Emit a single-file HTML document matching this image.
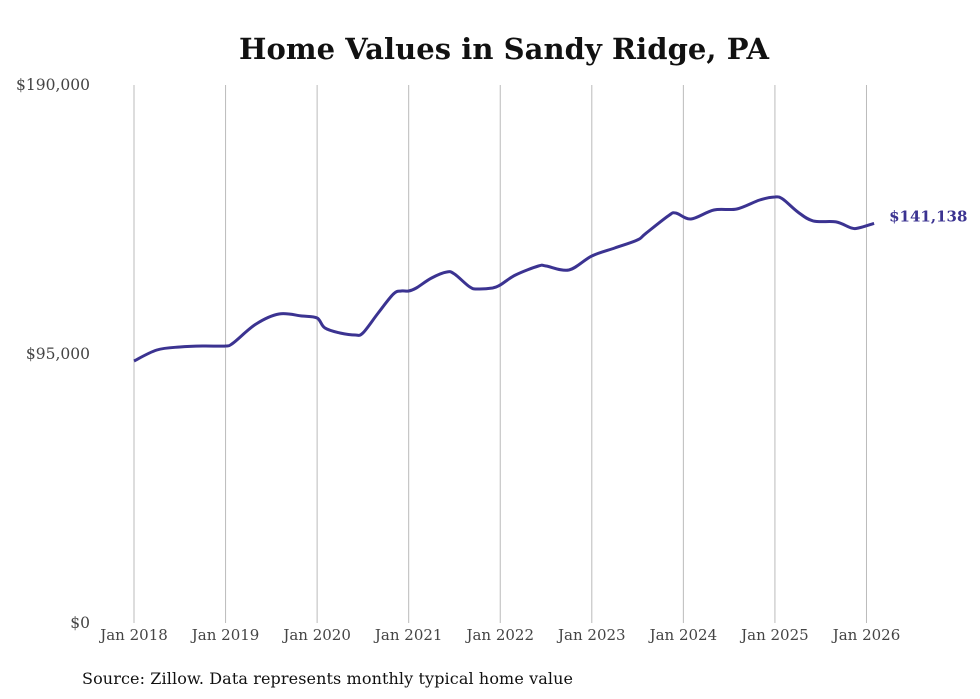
<!DOCTYPE html>
<html><head><meta charset="utf-8"><style>
body{margin:0;background:#fff;width:980px;height:699px;overflow:hidden}
svg{display:block;font-family:"DejaVu Serif","Liberation Serif",serif}
</style></head><body>
<svg width="980" height="699">
<text x="504" y="59" text-anchor="middle" font-size="29" font-weight="bold" fill="#111" textLength="530">Home Values in Sandy Ridge, PA</text>
<g id="grid"></g><g id="yaxis"></g><g id="xaxis"></g>
<path id="line" fill="none" stroke="#3b3391" stroke-width="3" stroke-linejoin="round"/>
<text id="lastlabel" font-size="15" font-weight="bold" fill="#3b3391"></text>
<text x="82" y="684" font-size="16" fill="#111" textLength="491">Source: Zillow. Data represents monthly typical home value</text>
</svg>
<script>
const months=[0,3,6,9,12,13,16,19,22,24,25,27,29,30,32,34,35,36,37,39,41,42,44,45,47,48,50,53,54,57,60,63,66,67,70,71,73,76,79,82,84,85,87,89,92,94,95,97];
const values=[92540,96420,97480,97840,97840,98900,105600,109140,108430,107730,104200,102430,101720,102430,109490,116200,117260,117260,118320,121850,123970,123260,118680,117970,118320,119380,122910,126090,126090,124680,129620,132450,135280,137400,143750,144810,142690,145870,146220,149400,150460,149760,145160,141990,141640,139520,139520,141138];
const yTicks=[0,95000,190000];
const yTickLabels=["$0","$95,000","$190,000"];
const xTicks=[0,12,24,36,48,60,72,84,96];
const xTickLabels=["Jan 2018","Jan 2019","Jan 2020","Jan 2021","Jan 2022","Jan 2023","Jan 2024","Jan 2025","Jan 2026"];
const NS="http://www.w3.org/2000/svg";
const X=m=>134+m*7.63;
const Y=v=>623-v/190000*538;
const grid=document.getElementById('grid'),xa=document.getElementById('xaxis'),ya=document.getElementById('yaxis');
xTicks.forEach((m,i)=>{
 const l=document.createElementNS(NS,'line');
 l.setAttribute('x1',X(m));l.setAttribute('x2',X(m));l.setAttribute('y1',85);l.setAttribute('y2',623);
 l.setAttribute('stroke','#bbb');l.setAttribute('stroke-width','1');
 
 
 grid.appendChild(l);
 const t=document.createElementNS(NS,'text');
 t.setAttribute('x',X(m));t.setAttribute('y',640);t.setAttribute('text-anchor','middle');
 t.setAttribute('font-size','15');t.setAttribute('fill','#444');t.textContent=xTickLabels[i];
 
 
 xa.appendChild(t);
});
yTicks.forEach((v,i)=>{
 const t=document.createElementNS(NS,'text');
 t.setAttribute('x',90);t.setAttribute('y',Y(v)+5);t.setAttribute('text-anchor','end');
 t.setAttribute('font-size','15.5');t.setAttribute('fill','#444');t.textContent=yTickLabels[i];
 
 
 ya.appendChild(t);
});
const pts=months.map((m,i)=>[X(m),Y(values[i])]);
let d='M'+pts[0][0].toFixed(1)+','+pts[0][1].toFixed(1);
for(let i=1;i<pts.length;i++){
 const p0=pts[i-2]||pts[i-1],p1=pts[i-1],p2=pts[i],p3=pts[i+1]||p2;
 const c1=[p1[0]+(p2[0]-p0[0])/6,p1[1]+(p2[1]-p0[1])/6];
 const c2=[p2[0]-(p3[0]-p1[0])/6,p2[1]-(p3[1]-p1[1])/6];
 d+='C'+c1.map(n=>n.toFixed(1)).join(',')+' '+c2.map(n=>n.toFixed(1)).join(',')+' '+p2.map(n=>n.toFixed(1)).join(',');
}
document.getElementById('line').setAttribute('d',d);
const last=values.length-1,lb=document.getElementById('lastlabel');
lb.setAttribute('x',X(months[last])+15);lb.setAttribute('y',Y(values[last])-2);
lb.textContent='$'+values[last].toLocaleString('en-US');
</script>
</body></html>
